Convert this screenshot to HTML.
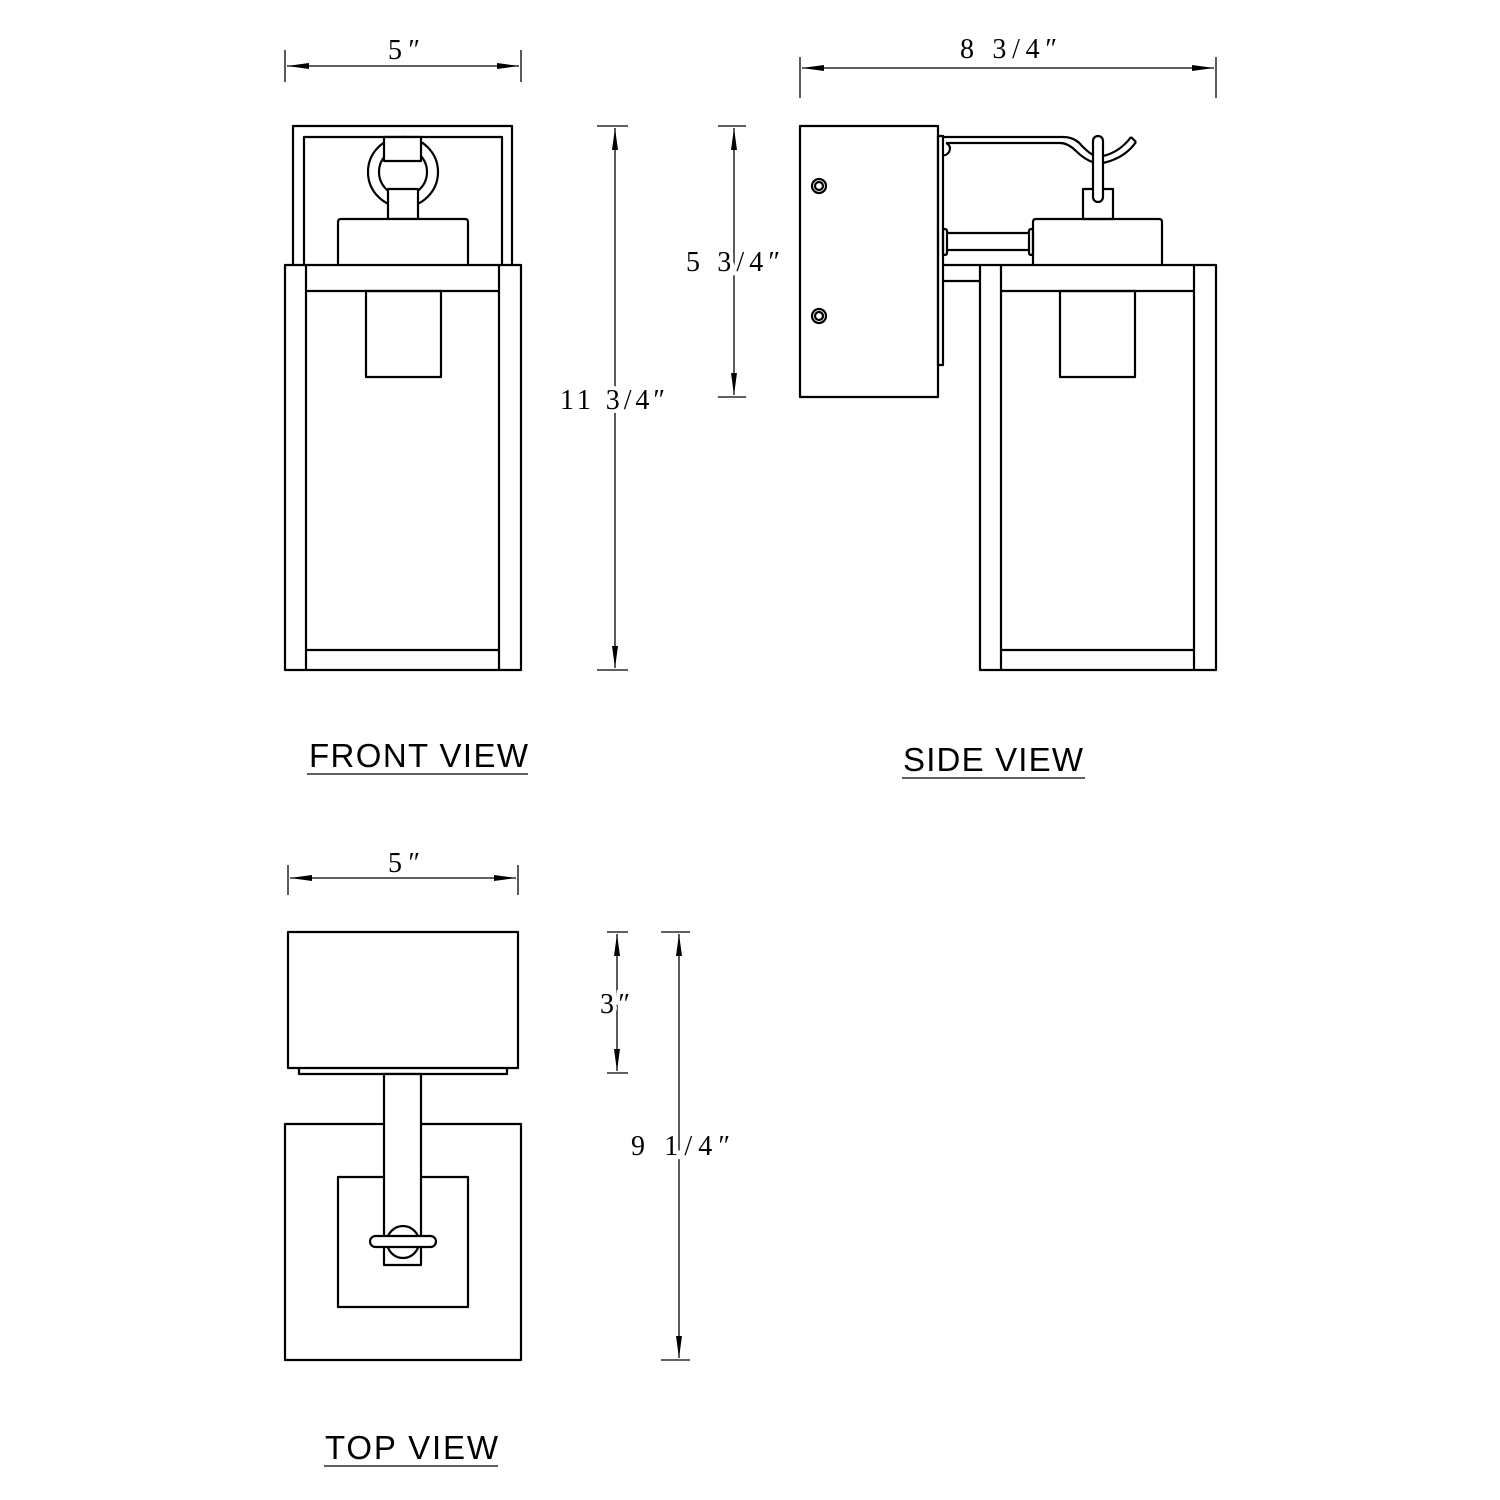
<!DOCTYPE html>
<html><head><meta charset="utf-8"><style>html,body{margin:0;padding:0;background:#fff}svg{display:block}</style></head>
<body>
<svg width="1500" height="1500" viewBox="0 0 1500 1500" xmlns="http://www.w3.org/2000/svg">
<defs>
<marker id="a" markerWidth="22" markerHeight="8" refX="22" refY="4" orient="auto" markerUnits="userSpaceOnUse"><path d="M0,1 L22,4 L0,7 Z" fill="#000"/></marker>
<marker id="b" markerWidth="22" markerHeight="8" refX="0" refY="4" orient="auto" markerUnits="userSpaceOnUse"><path d="M22,1 L0,4 L22,7 Z" fill="#000"/></marker>
</defs>
<g fill="none" stroke="#000" stroke-width="2.2" stroke-linejoin="round">
<!-- FRONT VIEW -->
<path d="M293,265 V126 H512 V265"/>
<path d="M304,265 V137 H502 V265"/>
<circle cx="403" cy="172" r="35"/>
<circle cx="403" cy="172" r="24"/>
<rect x="384" y="137" width="37" height="24" fill="#fff"/>
<rect x="388" y="189" width="30" height="30" fill="#fff"/>
<path d="M338,265 V222 Q338,219 341,219 H465 Q468,219 468,222 V265" fill="#fff"/>
<rect x="285" y="265" width="236" height="405"/>
<path d="M306,265 V670 M499,265 V670 M306,291 H499 M306,650 H499"/>
<rect x="366" y="291" width="75" height="86"/>
<!-- SIDE VIEW -->
<rect x="800" y="126" width="138" height="271"/>
<rect x="938" y="136" width="5" height="229"/>
<circle cx="819" cy="186" r="7"/><circle cx="819" cy="186" r="4"/>
<circle cx="819" cy="316" r="7"/><circle cx="819" cy="316" r="4"/>
<path d="M943,137 H1063 Q1075,137 1082,146 Q1090,154 1095,156"/>
<path d="M946,143 H1060 Q1068,143 1076,151 Q1085,160 1095,163"/>
<path d="M1103,156 Q1120,152 1131,137 M1103,163 Q1125,158 1136,142 M1131,137 L1136,142"/>
<path d="M946,143 Q952,146 949,152 Q946,156 943,155"/>
<rect x="1083" y="189" width="30" height="30"/>
<rect x="1093" y="136" width="10" height="66" rx="5" fill="#fff"/>
<path d="M1033,265 V222 Q1033,219 1036,219 H1159 Q1162,219 1162,222 V265"/>
<rect x="943" y="229" width="4" height="26" rx="2"/>
<rect x="1029" y="229" width="4" height="26" rx="2"/>
<path d="M947,233 H1029 M947,250 H1029"/>
<path d="M943,265 H980 M943,281 H980"/>
<rect x="980" y="265" width="236" height="405"/>
<path d="M1001,265 V670 M1194,265 V670 M1001,291 H1194 M1001,650 H1194"/>
<rect x="1060" y="291" width="75" height="86"/>
<!-- TOP VIEW -->
<rect x="288" y="932" width="230" height="136"/>
<path d="M299,1068 V1074 H507 V1068"/>
<rect x="285" y="1124" width="236" height="236"/>
<rect x="338" y="1177" width="130" height="130"/>
<rect x="384" y="1074" width="37" height="191" fill="#fff"/>
<circle cx="403" cy="1242" r="16"/>
<rect x="370" y="1236" width="66" height="11" rx="5.5" fill="#fff"/>
</g>
<!-- dimensions -->
<g stroke="#000" stroke-width="1.3" fill="none">
<path d="M285,50 V82 M521,50 V82"/>
<line x1="287" y1="66" x2="519" y2="66" marker-start="url(#b)" marker-end="url(#a)"/>
<path d="M597,126 H628 M597,670 H628"/>
<line x1="615" y1="128" x2="615" y2="668" marker-start="url(#b)" marker-end="url(#a)"/>
<path d="M800,57 V98 M1216,57 V98"/>
<line x1="802" y1="68" x2="1214" y2="68" marker-start="url(#b)" marker-end="url(#a)"/>
<path d="M718,126 H746 M718,397 H746"/>
<line x1="734" y1="128" x2="734" y2="395" marker-start="url(#b)" marker-end="url(#a)"/>
<path d="M288,865 V895 M518,865 V895"/>
<line x1="290" y1="878" x2="516" y2="878" marker-start="url(#b)" marker-end="url(#a)"/>
<path d="M607,932 H628 M607,1073 H628"/>
<line x1="617" y1="934" x2="617" y2="1071" marker-start="url(#b)" marker-end="url(#a)"/>
<path d="M661,932 H690 M661,1360 H690"/>
<line x1="679" y1="934" x2="679" y2="1358" marker-start="url(#b)" marker-end="url(#a)"/>
</g>
<g font-family="'Liberation Serif', serif" font-size="28" fill="#000" stroke="#fff" stroke-width="8" paint-order="stroke" lengthAdjust="spacing">
<text x="388" y="59" textLength="32">5″</text>
<text x="960" y="58" textLength="97">8 3/4″</text>
<text x="560" y="409" textLength="105">11 3/4″</text>
<text x="686" y="271" textLength="94">5 3/4″</text>
<text x="388" y="872" textLength="32">5″</text>
<text x="600" y="1013" textLength="30">3″</text>
<text x="631" y="1155" textLength="99">9 1/4″</text>
</g>
<g font-family="'Liberation Sans', sans-serif" font-size="33" fill="#000">
<text x="309" y="767" textLength="219" lengthAdjust="spacing">FRONT VIEW</text>
<text x="903" y="771" textLength="180" lengthAdjust="spacing">SIDE VIEW</text>
<text x="325" y="1459" textLength="173" lengthAdjust="spacing">TOP VIEW</text>
</g>
<g stroke="#000" stroke-width="1.3">
<line x1="307" y1="774" x2="528" y2="774"/>
<line x1="902" y1="778" x2="1085" y2="778"/>
<line x1="324" y1="1466" x2="498" y2="1466"/>
</g>
</svg>
</body></html>
